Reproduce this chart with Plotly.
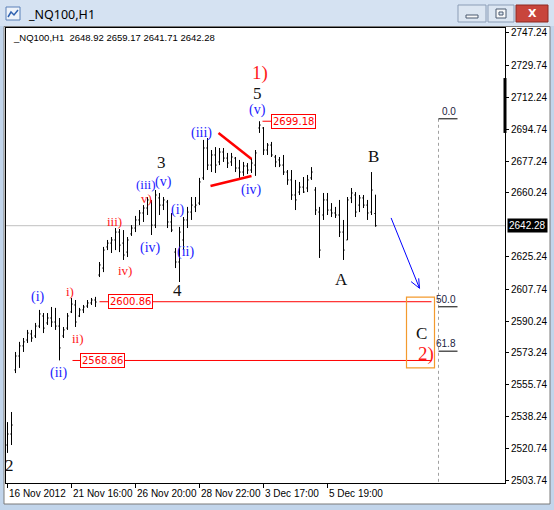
import plotly.graph_objects as go

# ---------------- data ----------------
bar_open = [2522.8, 2528.8, 2563.7, 2571.3, 2576.8, 2580.0, 2583.3, 2582.2, 2587.6, 2593.1,
            2589.3, 2592.0, 2589.8, 2587.6, 2582.2, 2586.5, 2595.3, 2599.1, 2593.1, 2596.4,
            2598.5, 2600.2, 2601.8, 2615.4, 2619.2, 2630.7, 2632.8, 2634.5, 2638.8, 2632.8,
            2627.9, 2637.8, 2641.0, 2645.4, 2649.2, 2651.9, 2655.2, 2642.6, 2657.4, 2653.5,
            2655.2, 2644.3, 2627.9, 2622.5, 2634.5, 2645.4, 2649.7, 2652.5, 2654.6, 2668.3,
            2684.6, 2675.3, 2680.8, 2677.0, 2682.4, 2679.1, 2677.0, 2679.1, 2673.7, 2671.5,
            2674.8, 2672.6, 2675.3, 2695.5, 2695.5, 2683.5, 2686.2, 2679.7, 2678.1, 2675.3,
            2671.5, 2667.2, 2659.0, 2660.6, 2663.3, 2662.8, 2668.3, 2661.7, 2649.7, 2648.1,
            2656.3, 2650.8, 2649.2, 2648.1, 2638.8, 2634.5, 2657.4, 2659.0, 2653.5, 2657.4,
            2653.5, 2649.7, 2648.92]
bar_high = [2535.3, 2540.8, 2573.5, 2579.0, 2581.1, 2585.5, 2585.5, 2589.3, 2596.4, 2594.7,
            2594.7, 2598.0, 2597.5, 2592.0, 2587.1, 2594.7, 2602.9, 2601.8, 2597.5, 2599.1,
            2601.8, 2602.9, 2603.5, 2622.5, 2630.7, 2634.5, 2636.1, 2641.0, 2640.5, 2639.9,
            2636.1, 2642.6, 2647.6, 2650.8, 2653.5, 2657.9, 2656.3, 2661.7, 2660.1, 2657.9,
            2656.3, 2649.2, 2630.1, 2641.6, 2647.0, 2652.5, 2657.9, 2657.9, 2668.3, 2689.0,
            2690.0, 2683.5, 2685.1, 2684.6, 2684.6, 2681.9, 2681.9, 2679.7, 2678.1, 2677.0,
            2676.4, 2679.1, 2683.5, 2699.18, 2696.0, 2687.3, 2687.9, 2680.8, 2679.7, 2680.8,
            2672.6, 2672.6, 2667.2, 2666.1, 2668.8, 2669.9, 2674.2, 2663.3, 2652.5, 2660.1,
            2660.1, 2654.6, 2652.5, 2656.3, 2645.4, 2657.9, 2662.8, 2660.6, 2659.0, 2659.0,
            2656.3, 2671.5, 2659.17]
bar_low = [2518.5, 2522.8, 2562.0, 2564.8, 2573.5, 2578.4, 2579.0, 2581.1, 2586.5, 2583.8,
           2588.2, 2587.1, 2585.5, 2568.9, 2581.1, 2585.5, 2594.7, 2587.1, 2592.5, 2594.7,
           2597.5, 2599.1, 2598.0, 2614.3, 2617.0, 2629.0, 2627.4, 2629.0, 2627.9, 2623.6,
           2625.2, 2636.7, 2638.8, 2642.6, 2644.3, 2648.1, 2637.2, 2641.0, 2648.1, 2650.8,
           2641.0, 2638.8, 2619.2, 2611.6, 2629.0, 2641.0, 2645.4, 2649.7, 2653.5, 2667.2,
           2672.6, 2671.5, 2671.0, 2675.3, 2677.0, 2673.7, 2674.8, 2671.5, 2668.3, 2669.4,
           2670.4, 2671.0, 2669.4, 2692.8, 2680.8, 2680.8, 2679.7, 2674.2, 2674.2, 2669.9,
           2664.5, 2656.3, 2650.8, 2659.0, 2660.1, 2660.6, 2667.2, 2648.1, 2624.7, 2645.4,
           2648.1, 2647.0, 2646.5, 2636.1, 2623.6, 2634.5, 2654.6, 2647.0, 2649.7, 2651.9,
           2645.4, 2648.1, 2641.71]
bar_close = [2528.8, 2533.7, 2571.3, 2576.8, 2579.0, 2583.8, 2581.1, 2587.6, 2594.2, 2586.5,
             2592.0, 2589.8, 2587.6, 2575.7, 2585.5, 2593.1, 2599.6, 2589.8, 2596.4, 2598.0,
             2600.2, 2601.8, 2600.7, 2620.9, 2629.0, 2632.8, 2634.5, 2638.8, 2631.7, 2626.3,
             2634.5, 2641.0, 2645.4, 2649.2, 2651.9, 2656.3, 2642.6, 2659.0, 2653.5, 2656.3,
             2644.3, 2639.9, 2622.5, 2638.8, 2645.4, 2649.7, 2653.5, 2653.5, 2666.1, 2684.6,
             2675.3, 2680.8, 2675.3, 2682.4, 2679.1, 2676.4, 2679.7, 2673.7, 2671.5, 2674.8,
             2672.6, 2676.4, 2681.9, 2697.1, 2683.5, 2686.2, 2680.8, 2677.0, 2675.3, 2671.5,
             2667.2, 2659.0, 2656.3, 2663.3, 2660.6, 2667.2, 2671.5, 2650.8, 2629.0, 2656.3,
             2650.8, 2649.2, 2648.1, 2638.8, 2629.0, 2656.3, 2660.1, 2649.7, 2657.4, 2653.5,
             2649.2, 2661.7, 2642.28]

x_tick_index = [0, 16, 32, 48, 64, 80]
x_tick_labels = ["16 Nov 2012", "21 Nov 16:00", "26 Nov 20:00",
                 "28 Nov 22:00", "3 Dec 17:00", "5 Dec 19:00"]
y_tick_values = [2747.24, 2729.74, 2712.24, 2694.74, 2677.24, 2660.24, 2625.24,
                 2607.74, 2590.24, 2573.24, 2555.74, 2538.24, 2520.74, 2503.74]
last_price = 2642.28
support_levels = [2600.86, 2568.86]
support_start = [23, 16.25]
support_label_x = [30.75, 23.75]
peak_price = 2699.18
fib_high = 2700.5
fib_low = 2495.7
fib_ratios = [0.0, 0.5, 0.618]
fib_texts = ["0.0", "50.0", "61.8"]

# analysis drawings (bar index, price)
tri_upper = [(52.75, 2692.8), (61.0, 2678.6)]
tri_lower = [(50.75, 2663.9), (61.0, 2669.3)]
arrow_tail = (95.9, 2646.5)
arrow_tip = (103.0, 2608.2)
arrow_barbs = [(100.9, 2611.8), (102.8, 2613.6)]
target_box = (99.75, 106.75, 2564.8, 2603.4)
fib_x = 107.75

# wave labels: text, bar index, price, colour, size
wave_labels = [
    ("2", 0.5, 2511.9, "#111111", 17),
    ("(i)", 7.5, 2603.4, "#2222ff", 14),
    ("(ii)", 12.75, 2562.0, "#2222ff", 14),
    ("i)", 15.5, 2606.2, "#ff1a1a", 13),
    ("ii)", 17.5, 2580.6, "#ff1a1a", 13),
    ("iii)", 26.75, 2644.3, "#ff1a1a", 13),
    ("iv)", 29.25, 2618.1, "#ff1a1a", 13),
    ("v)", 34.8, 2657.0, "#ff1a1a", 13),
    ("(iii)", 34.5, 2664.5, "#2222ff", 13),
    ("(v)", 39.0, 2666.0, "#2222ff", 14),
    ("3", 38.5, 2676.5, "#111111", 17),
    ("(iv)", 35.75, 2630.1, "#2222ff", 14),
    ("(i)", 42.5, 2650.8, "#2222ff", 14),
    ("(ii)", 44.5, 2627.9, "#2222ff", 14),
    ("4", 42.5, 2607.2, "#111111", 17),
    ("(iii)", 48.5, 2692.8, "#2222ff", 14),
    ("(iv)", 61.0, 2661.7, "#2222ff", 14),
    ("(v)", 62.5, 2705.3, "#2222ff", 14),
    ("5", 62.5, 2714.3, "#111111", 17),
    ("1)", 63.0, 2725.3, "#ff1a1a", 19),
    ("B", 91.5, 2680.2, "#111111", 17),
    ("A", 83.5, 2613.2, "#111111", 17),
    ("C", 103.5, 2583.8, "#111111", 17),
    ("2)", 104.5, 2572.4, "#ff1a1a", 19),
]

# ---------------- layout geometry ----------------
W, H = 554, 510
PL, PR, PT, PB = 6, 505, 28, 483


def fx(px):
    return (px - PL) / (PR - PL)


def fy(py):
    return (PB - py) / (PB - PT)


x_min = -0.375
x_max = x_min + (PR - PL) / 4.0
y_min, y_max = 2502.12, 2749.96

fig = go.Figure()
fig.add_trace(go.Ohlc(
    x=list(range(len(bar_open))), open=bar_open, high=bar_high, low=bar_low, close=bar_close,
    increasing=dict(line=dict(color="black", width=1)),
    decreasing=dict(line=dict(color="black", width=1)),
    tickwidth=0.3, hoverinfo="skip", showlegend=False))

shapes = []
# window chrome
shapes.append(dict(type="rect", xref="paper", yref="paper", x0=fx(0), x1=fx(554), y0=fy(0), y1=fy(26),
                   fillcolor="#d5e2f2", line=dict(width=0), layer="below"))
shapes.append(dict(type="rect", xref="paper", yref="paper", x0=fx(4), x1=fx(550), y0=fy(26.5), y1=fy(504),
                   fillcolor="white", line=dict(color="#7a7a7a", width=1), layer="below"))
# icon
shapes.append(dict(type="rect", xref="paper", yref="paper", x0=fx(6), x1=fx(20), y0=fy(7), y1=fy(20),
                   fillcolor="#eef3fa", line=dict(color="#5b80b8", width=1), layer="below"))
shapes.append(dict(type="path", xref="paper", yref="paper",
                   path="M %f %f L %f %f L %f %f L %f %f" % (fx(8), fy(17), fx(11), fy(12), fx(14), fy(15), fx(18), fy(10)),
                   line=dict(color="#2f62b0", width=1.5), layer="below"))
# buttons
for bx0, bx1, fill, border in [(458, 486, "#dce6f2", "#8b9db6"), (488, 514, "#dce6f2", "#8b9db6"),
                               (516, 548, "#c8453c", "#8d2a23")]:
    shapes.append(dict(type="rect", xref="paper", yref="paper", x0=fx(bx0), x1=fx(bx1), y0=fy(5), y1=fy(22),
                       fillcolor=fill, line=dict(color=border, width=1), layer="below"))
shapes.append(dict(type="rect", xref="paper", yref="paper", x0=fx(466), x1=fx(478), y0=fy(15), y1=fy(18),
                   fillcolor="#f8f8f8", line=dict(color="#4a5a70", width=1), layer="below"))
shapes.append(dict(type="rect", xref="paper", yref="paper", x0=fx(496), x1=fx(506), y0=fy(9), y1=fy(18),
                   fillcolor="#f8f8f8", line=dict(color="#4a5a70", width=1), layer="below"))
shapes.append(dict(type="rect", xref="paper", yref="paper", x0=fx(499), x1=fx(503), y0=fy(12), y1=fy(15),
                   fillcolor="#dce6f2", line=dict(color="#4a5a70", width=1), layer="below"))
# current price line
shapes.append(dict(type="line", xref="paper", yref="y", x0=0, x1=1, y0=last_price, y1=last_price,
                   line=dict(color="#c0c0c0", width=1), layer="below"))
# support lines
for lvl, x0 in zip(support_levels, support_start):
    shapes.append(dict(type="line", xref="x", yref="y", x0=x0, x1=106, y0=lvl, y1=lvl,
                       line=dict(color="#ff0000", width=1)))
shapes.append(dict(type="line", xref="x", yref="y", x0=63.75, x1=66.5, y0=peak_price, y1=peak_price,
                   line=dict(color="#ff0000", width=1)))
# triangle
for seg in (tri_upper, tri_lower):
    shapes.append(dict(type="line", xref="x", yref="y", x0=seg[0][0], y0=seg[0][1], x1=seg[1][0], y1=seg[1][1],
                       line=dict(color="#ff0000", width=2.5)))
# arrow
shapes.append(dict(type="line", xref="x", yref="y", x0=arrow_tail[0], y0=arrow_tail[1], x1=arrow_tip[0], y1=arrow_tip[1],
                   line=dict(color="#0000ff", width=1)))
for b in arrow_barbs:
    shapes.append(dict(type="line", xref="x", yref="y", x0=b[0], y0=b[1], x1=arrow_tip[0], y1=arrow_tip[1],
                       line=dict(color="#0000ff", width=1)))
# target box
shapes.append(dict(type="rect", xref="x", yref="y", x0=target_box[0], x1=target_box[1], y0=target_box[2], y1=target_box[3],
                   line=dict(color="#f39a2e", width=1.2)))
# fib
shapes.append(dict(type="line", xref="x", yref="y", x0=fib_x, x1=fib_x, y0=fib_high, y1=y_min,
                   line=dict(color="#a0a0a0", width=1, dash="3px,3px")))
fib_levels = [fib_high - r * (fib_high - fib_low) for r in fib_ratios]
for lvl in fib_levels:
    shapes.append(dict(type="line", xref="x", yref="y", x0=fib_x, x1=fib_x + 4.75, y0=lvl, y1=lvl,
                       line=dict(color="black", width=1)))
# marker on right border
shapes.append(dict(type="line", xref="paper", yref="y", x0=1, x1=1, y0=2692.8, y1=2722.7,
                   line=dict(color="black", width=3)))

ann = []
ann.append(dict(xref="paper", yref="paper", x=fx(26), y=fy(14), xanchor="left", yanchor="middle",
                text="_NQ100,H1", showarrow=False, font=dict(family="Noto Sans", size=12.5, color="black")))
ann.append(dict(xref="paper", yref="paper", x=fx(526), y=fy(13.5), xanchor="left", yanchor="middle",
                text="<b>X</b>", showarrow=False, font=dict(family="DejaVu Sans", size=11, color="white")))
ann.append(dict(xref="paper", yref="paper", x=fx(11), y=fy(37), xanchor="left", yanchor="middle",
                text="_NQ100,H1  2648.92 2659.17 2641.71 2642.28", showarrow=False,
                font=dict(family="Liberation Sans", size=9.5, color="black")))
for i, lab in zip(x_tick_index, x_tick_labels):
    ann.append(dict(xref="x", yref="paper", x=i, y=fy(486), xanchor="left", yanchor="top", xshift=-1,
                    text=lab, showarrow=False, font=dict(family="Liberation Sans", size=10, color="black")))
ann.append(dict(xref="paper", yref="y", x=fx(507), y=last_price, xanchor="left", yanchor="middle",
                text="%.2f" % last_price, showarrow=False, bgcolor="black", borderpad=1,
                font=dict(family="Liberation Sans", size=10, color="white")))
for lvl, lx in zip(support_levels + [peak_price], support_label_x + [71.5]):
    ann.append(dict(xref="x", yref="y", x=lx, y=lvl, text="%.2f" % lvl, showarrow=False,
                    bgcolor="white", bordercolor="#ff0000", borderwidth=1, borderpad=1,
                    font=dict(family="DejaVu Sans", size=10, color="#ff0000")))
for lvl, t in zip(fib_levels, fib_texts):
    ann.append(dict(xref="x", yref="y", x=fib_x + 4.75, y=lvl, xanchor="right", yanchor="bottom",
                    text=t, showarrow=False, font=dict(family="Liberation Sans", size=10, color="#1c1c40")))
for t, xi, p, c, s in wave_labels:
    ann.append(dict(xref="x", yref="y", x=xi, y=p, text=t, showarrow=False,
                    font=dict(family="Liberation Serif", size=s, color=c)))

fig.update_layout(
    width=W, height=H, margin=dict(l=PL, r=W - PR, t=PT, b=H - PB, autoexpand=False),
    paper_bgcolor="#c2d5eb", plot_bgcolor="white", showlegend=False,
    shapes=shapes, annotations=ann,
    xaxis=dict(range=[x_min, x_max], rangeslider=dict(visible=False), showgrid=False, zeroline=False,
               tickvals=x_tick_index, ticks="outside", ticklen=4, tickcolor="black", showticklabels=False,
               showline=True, linecolor="black", linewidth=1, mirror=True, automargin=False),
    yaxis=dict(range=[y_min, y_max], side="right", showgrid=False, zeroline=False,
               tickvals=y_tick_values, ticktext=["%.2f" % v for v in y_tick_values],
               ticks="outside", ticklen=3, tickcolor="black",
               tickfont=dict(family="Liberation Sans", size=10, color="black"),
               showline=True, linecolor="black", linewidth=1, mirror=True, automargin=False),
)

fig.write_html("out.html", config={"displayModeBar": False},
               post_script="document.body.style.margin='0px';document.body.style.overflow='hidden';")
